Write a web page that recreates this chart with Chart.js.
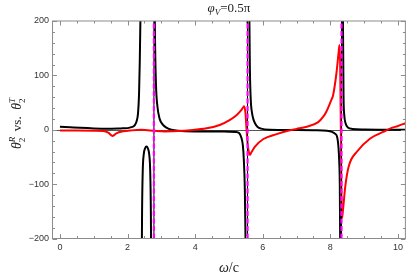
<!DOCTYPE html>
<html><head><meta charset="utf-8">
<script src="https://cdn.jsdelivr.net/npm/chart.js@4/dist/chart.umd.min.js"></script>
<style>html,body{margin:0;padding:0;background:#fff;overflow:hidden}</style>
</head><body>
<canvas id="c" width="407" height="277"></canvas>
<script>
// ---- data ----
const xLimits = [-0.22, 10.22];
const yLimits = [-200, 200];
const xTickValues = [0, 2, 4, 6, 8, 10];
const yTickValues = [-200, -100, 0, 100, 200];
const asymptoteX = [2.78, 5.55, 8.33];

// theta2^T (black) — null separates branches at the poles
const blackX = [0,0.3,0.6,1.0,1.4,1.8,2.0,2.1,2.17,2.22,2.27,2.31,2.34,2.36,2.38,2.395,null,
  2.415,2.43,2.45,2.48,2.52,2.56,2.60,2.64,2.67,2.69,2.705,null,
  2.79,2.81,2.84,2.88,2.95,3.05,3.15,3.3,3.5,4.0,4.5,5.0,5.2,5.3,5.37,5.41,5.44,5.47,5.49,5.51,null,
  5.595,5.605,5.62,5.645,5.67,5.72,5.77,5.85,5.95,6.2,7.0,7.5,7.9,8.05,8.13,8.19,8.22,8.24,8.26,8.28,8.29,8.30,null,
  8.365,8.375,8.39,8.41,8.45,8.52,8.65,9.0,10.0,10.22];
const blackY = [5.5,4.5,3.5,2.5,2,2.5,3,4.5,6,9,16,30,65,120,200,320,null,
  -300,-150,-75,-45,-34,-31,-34,-45,-75,-150,-300,null,
  320,180,85,45,20,9,4,0,-2,-3,-3,-3.5,-4,-6,-15,-28,-55,-110,-200,-350,null,
  350,200,110,55,36,20,12,5,2,0,-0.5,-1,-2,-4,-7,-11,-20,-32,-55,-105,-200,-350,null,
  350,180,60,28,12,4,1.5,0.5,0,0];

// theta2^R (red)
const redX = [0,0.5,1.0,1.28,1.43,1.56,1.67,1.87,2.1,2.4,2.6,2.8,3.1,3.5,3.85,4.34,4.73,5.03,5.23,5.35,5.42,5.45,5.49,5.52,5.56,5.6,5.62,5.66,5.77,6.02,6.41,6.8,7.0,7.3,7.64,7.79,7.88,8.03,8.08,8.18,8.24,8.27,8.29,8.31,8.33,8.345,8.37,8.44,8.54,8.79,9.18,9.58,9.78,10.0,10.22];
const redY = [-1.5,-1.5,-1.8,-2.5,-5.5,-11.5,-6.5,-3,-1.2,0,-1,-2,-3,-2.5,-1,2.6,8.7,18,27,35,41,43,30,0,-30,-44,-46,-42,-31,-17,-8,-1,1.5,5.6,14,24,33,55,63,104,140,156,120,0,-140,-162,-150,-105,-68,-40,-16,-3.5,2.6,7,12];

const pts = (xs, ys) => xs.map((x, i) => ({x: x === null ? NaN : x, y: ys[i]}));
const vertical = (xs) => {
  const out = [];
  xs.forEach(x => { out.push({x, y: yLimits[0]}, {x, y: yLimits[1]}, {x: NaN, y: null}); });
  return out;
};

function drawRich(ctx, pieces, x, y) {
  pieces.forEach(p => { ctx.font = p.font; p.w = ctx.measureText(p.t).width; });
  let total = 0;
  pieces.forEach(p => { if (!p.stack) total += p.w; });
  let cx = x - total / 2;
  pieces.forEach(p => {
    ctx.font = p.font;
    ctx.fillText(p.t, cx, y + (p.dy || 0));
    if (!p.stack) cx += p.w;
  });
}

const frameColor = '#8c8c8c';
const decor = {
  id: 'decor',
  beforeDatasetsDraw(chart) {
    const {ctx, chartArea: a, scales: {x, y}} = chart;
    ctx.save();
    ctx.strokeStyle = '#555';
    ctx.lineWidth = 1;
    const y0 = Math.round(y.getPixelForValue(0)) + 0.5;
    ctx.beginPath(); ctx.moveTo(a.left, y0); ctx.lineTo(a.right, y0); ctx.stroke();
    ctx.restore();
  },
  afterDraw(chart) {
    const {ctx, chartArea: a, scales: {x, y}} = chart;
    ctx.save();
    ctx.strokeStyle = frameColor;
    ctx.lineWidth = 1;
    ctx.strokeRect(a.left, a.top, a.right - a.left, a.bottom - a.top);
    ctx.beginPath();
    for (let v = 0; v <= 10.001; v += 0.5) {
      const px = Math.round(x.getPixelForValue(v)) + 0.5;
      const major = Math.abs(v / 2 - Math.round(v / 2)) < 1e-6;
      const L = major ? 4.5 : 2.5;
      ctx.moveTo(px, a.bottom); ctx.lineTo(px, a.bottom - L);
      ctx.moveTo(px, a.top); ctx.lineTo(px, a.top + L);
    }
    for (let v = -200; v <= 200; v += 20) {
      const py = Math.round(y.getPixelForValue(v)) + 0.5;
      const major = v % 100 === 0;
      const L = major ? 4.5 : 2.5;
      ctx.moveTo(a.left, py); ctx.lineTo(a.left + L, py);
      ctx.moveTo(a.right, py); ctx.lineTo(a.right - L, py);
    }
    ctx.stroke();

    ctx.fillStyle = '#222';
    ctx.textBaseline = 'alphabetic';
    const cxp = (a.left + a.right) / 2;
    const serif = '"Liberation Serif", "DejaVu Serif", serif';
    drawRich(ctx, [
      {t: 'φ', font: `italic 13px ${serif}`},
      {t: 'V', font: `italic 9px ${serif}`, dy: 3},
      {t: '=0.5π', font: `13px ${serif}`}
    ], cxp, 12);
    drawRich(ctx, [
      {t: 'ω', font: `italic 14px ${serif}`},
      {t: '/c', font: `14px ${serif}`}
    ], cxp, 272);
    ctx.translate(21, (a.top + a.bottom) / 2 - 6);
    ctx.rotate(-Math.PI / 2);
    drawRich(ctx, [
      {t: 'θ', font: `italic 14px ${serif}`},
      {t: 'R', font: `italic 9px ${serif}`, dy: -6, stack: true},
      {t: '2', font: `9px ${serif}`, dy: 3.5},
      {t: '  vs.  ', font: `13px ${serif}`},
      {t: 'θ', font: `italic 14px ${serif}`},
      {t: 'T', font: `italic 9px ${serif}`, dy: -6, stack: true},
      {t: '2', font: `9px ${serif}`, dy: 3.5}
    ], 0, 0);
    ctx.restore();
  }
};

const lineDefaults = {showLine: true, pointRadius: 0, borderWidth: 2, spanGaps: false, fill: false};
const sans = '"Liberation Sans", Arial, sans-serif';
const fmt = v => String(v).replace('-', '\u2212');

new Chart(document.getElementById('c'), {
  type: 'scatter',
  data: {
    datasets: [
      Object.assign({}, lineDefaults, {label: 'asym', data: vertical(asymptoteX), borderColor: '#ff00ff', borderWidth: 2.2, borderDash: [5, 2.5], order: -1}),
      Object.assign({}, lineDefaults, {label: 'asymBlack', data: vertical(asymptoteX), borderColor: '#000', borderWidth: 1, order: 1}),
      Object.assign({}, lineDefaults, {label: 'θ2R', data: pts(redX, redY), borderColor: '#ff0000', cubicInterpolationMode: 'monotone', order: 2}),
      Object.assign({}, lineDefaults, {label: 'θ2T', data: pts(blackX, blackY), borderColor: '#000000', cubicInterpolationMode: 'monotone', order: 3})
    ]
  },
  options: {
    responsive: false,
    animation: false,
    devicePixelRatio: 1,
    layout: {padding: {top: 21, right: 1.5, left: 0, bottom: 0}},
    plugins: {legend: {display: false}, tooltip: {enabled: false}, title: {display: false}},
    scales: {
      x: {
        type: 'linear', min: xLimits[0], max: xLimits[1],
        afterBuildTicks: s => { s.ticks = xTickValues.map(v => ({value: v})); },
        afterFit: s => { s.height = 38.5; },
        grid: {display: false, drawTicks: false},
        border: {display: false},
        ticks: {font: {family: sans, size: 9}, color: '#333', padding: 4, maxRotation: 0, callback: fmt}
      },
      y: {
        type: 'linear', min: yLimits[0], max: yLimits[1],
        afterBuildTicks: s => { s.ticks = yTickValues.map(v => ({value: v})); },
        afterFit: s => { s.width = 52.5; },
        grid: {display: false, drawTicks: false},
        border: {display: false},
        ticks: {font: {family: sans, size: 9}, color: '#333', padding: 3.5, callback: fmt}
      }
    }
  },
  plugins: [decor]
});
</script>
</body></html>
